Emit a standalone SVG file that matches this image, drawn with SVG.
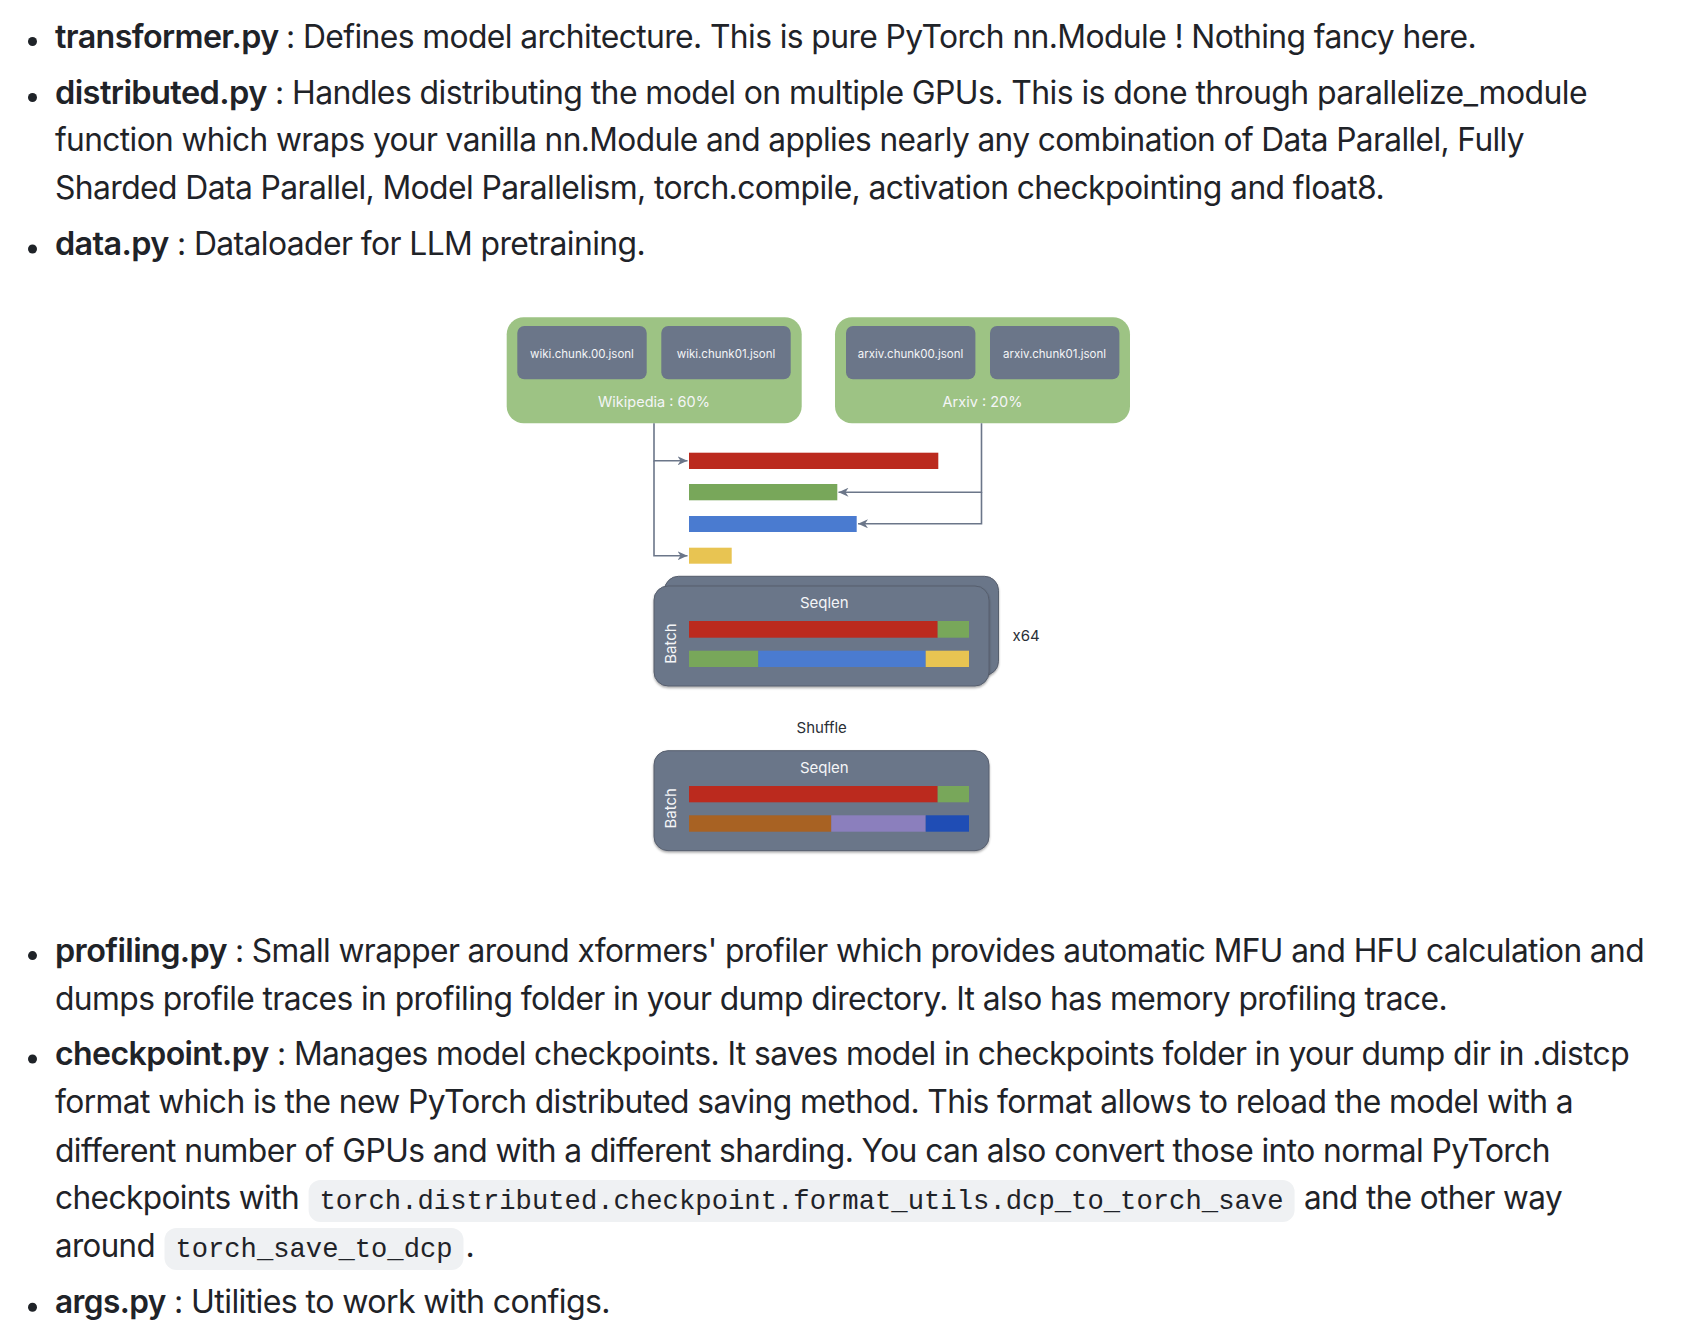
<svg xmlns="http://www.w3.org/2000/svg" width="1686" height="1344" viewBox="0 0 1686 1344">
<defs>
<style>
.t{font-family:Inter,"Liberation Sans",sans-serif;font-size:32px;fill:#1f2328;letter-spacing:-0.6px}
.b{font-weight:600}
.code{font-family:"Liberation Mono","DejaVu Sans Mono",monospace;font-size:27.2px;fill:#1f2328}
.cbg{fill:#eff1f3}
.bul{fill:#1f2328}
.grp{fill:#9dc384}
.chunk{fill:#6b7689}
.lbl{font-family:Inter,"Liberation Sans",sans-serif;fill:#f4f5f7}
.dk{font-family:Inter,"Liberation Sans",sans-serif;fill:#2a2f36;font-size:15px}
.card{fill:#6b7689;stroke:#565e6d;stroke-width:1}
.conn{fill:none;stroke:#6b7689;stroke-width:1.6}
.r{fill:#bb2a1e}.g{fill:#78a75a}.bl{fill:#4a7bd0}.y{fill:#e8c452}.br{fill:#a86223}.pu{fill:#8b7fbd}.db{fill:#1f4db5}
</style>
<marker id="ah" markerUnits="userSpaceOnUse" markerWidth="11" markerHeight="9" refX="10" refY="4.5" orient="auto">
<path d="M0,0 L10,4.5 L0,9 L3,4.5 Z" fill="#6b7689"/>
</marker>
<filter id="sh" x="-5%" y="-5%" width="110%" height="115%">
<feDropShadow dx="0" dy="1.5" stdDeviation="1.2" flood-color="#000" flood-opacity="0.35"/>
</filter>
</defs>
<rect width="1686" height="1344" fill="#ffffff"/>

<g id="text-top">
<circle class="bul" cx="32.5" cy="41.5" r="4.5"/>
<text class="t b" x="55" y="47.5" textLength="223.5" lengthAdjust="spacingAndGlyphs">transformer.py</text>
<text class="t" x="286" y="47.5" textLength="1190" lengthAdjust="spacingAndGlyphs">: Defines model architecture. This is pure PyTorch nn.Module ! Nothing fancy here.</text>

<circle class="bul" cx="32.5" cy="97.5" r="4.5"/>
<text class="t b" x="55" y="103.5" textLength="211.7" lengthAdjust="spacingAndGlyphs">distributed.py</text>
<text class="t" x="275" y="103.5" textLength="1312" lengthAdjust="spacingAndGlyphs">: Handles distributing the model on multiple GPUs. This is done through parallelize_module</text>
<text class="t" x="55" y="151.3" textLength="1469" lengthAdjust="spacingAndGlyphs">function which wraps your vanilla nn.Module and applies nearly any combination of Data Parallel, Fully</text>
<text class="t" x="55" y="199" textLength="1329" lengthAdjust="spacingAndGlyphs">Sharded Data Parallel, Model Parallelism, torch.compile, activation checkpointing and float8.</text>

<circle class="bul" cx="32.5" cy="249" r="4.5"/>
<text class="t b" x="55" y="255" textLength="113.8" lengthAdjust="spacingAndGlyphs">data.py</text>
<text class="t" x="177" y="255" textLength="468" lengthAdjust="spacingAndGlyphs">: Dataloader for LLM pretraining.</text>
</g>

<g id="node-wikipedia">
<rect class="grp" x="506.7" y="317.3" width="295" height="106" rx="17"/>
<rect class="chunk" x="517.3" y="326" width="129.4" height="53.3" rx="7"/>
<rect class="chunk" x="661.3" y="326" width="129.4" height="53.3" rx="7"/>
<text class="lbl" x="582" y="358" font-size="11.5" text-anchor="middle">wiki.chunk.00.jsonl</text>
<text class="lbl" x="726" y="358" font-size="11.5" text-anchor="middle">wiki.chunk01.jsonl</text>
<text class="lbl" x="654" y="406.5" font-size="14.5" text-anchor="middle">Wikipedia : 60%</text>
</g>

<g id="node-arxiv">
<rect class="grp" x="835" y="317.3" width="295" height="106" rx="17"/>
<rect class="chunk" x="846" y="326" width="129.4" height="53.3" rx="7"/>
<rect class="chunk" x="990" y="326" width="129.4" height="53.3" rx="7"/>
<text class="lbl" x="910.5" y="358" font-size="11.5" text-anchor="middle">arxiv.chunk00.jsonl</text>
<text class="lbl" x="1054.5" y="358" font-size="11.5" text-anchor="middle">arxiv.chunk01.jsonl</text>
<text class="lbl" x="982.5" y="406.5" font-size="14.5" text-anchor="middle">Arxiv : 20%</text>
</g>

<g id="node-docs">
<rect class="r" x="689" y="452.7" width="249.3" height="16.3"/>
<rect class="g" x="689" y="484" width="148.3" height="16.3"/>
<rect class="bl" x="689" y="516" width="167.7" height="16"/>
<rect class="y" x="689" y="547.7" width="42.7" height="16"/>
</g>

<g id="connectors">
<path class="conn" d="M654,423.3 V460.8 H687.5" marker-end="url(#ah)"/>
<path class="conn" d="M654,460.8 V555.7 H687.5" marker-end="url(#ah)"/>
<path class="conn" d="M981.5,423.3 V492.2 H838.5" marker-end="url(#ah)"/>
<path class="conn" d="M981.5,492.2 V523.8 H858" marker-end="url(#ah)"/>
</g>

<g id="node-batch">
<rect class="card" x="664.5" y="576.3" width="334" height="99" rx="14" filter="url(#sh)"/>
<rect class="card" x="654" y="586" width="335" height="100" rx="14" filter="url(#sh)"/>
<text class="lbl" x="824.3" y="607.5" font-size="15" text-anchor="middle">Seqlen</text>
<text class="lbl" font-size="15" text-anchor="middle" transform="translate(675.5,643.5) rotate(-90)">Batch</text>
<rect class="r" x="689" y="621" width="248.7" height="16.7"/>
<rect class="g" x="937.7" y="621" width="31.3" height="16.7"/>
<rect class="g" x="689" y="650.7" width="69.3" height="16.3"/>
<rect class="bl" x="758.3" y="650.7" width="167.4" height="16.3"/>
<rect class="y" x="925.7" y="650.7" width="43.3" height="16.3"/>
<text class="dk" x="1012.5" y="640.5">x64</text>
</g>

<g id="node-shuffled">
<text class="dk" x="821.7" y="733.3" text-anchor="middle">Shuffle</text>
<rect class="card" x="654" y="750.7" width="335" height="100" rx="14" filter="url(#sh)"/>
<text class="lbl" x="824.3" y="772.5" font-size="15" text-anchor="middle">Seqlen</text>
<text class="lbl" font-size="15" text-anchor="middle" transform="translate(675.5,808.3) rotate(-90)">Batch</text>
<rect class="r" x="689" y="786" width="248.7" height="16.3"/>
<rect class="g" x="937.7" y="786" width="31.3" height="16.3"/>
<rect class="br" x="689" y="815.3" width="142.3" height="16.4"/>
<rect class="pu" x="831.3" y="815.3" width="94.4" height="16.4"/>
<rect class="db" x="925.7" y="815.3" width="43.3" height="16.4"/>
</g>

<g id="text-bottom">
<circle class="bul" cx="32.5" cy="955.6" r="4.5"/>
<text class="t b" x="55" y="961.6" textLength="172" lengthAdjust="spacingAndGlyphs">profiling.py</text>
<text class="t" x="235" y="961.6" textLength="1409" lengthAdjust="spacingAndGlyphs">: Small wrapper around xformers' profiler which provides automatic MFU and HFU calculation and</text>
<text class="t" x="55" y="1010" textLength="1392" lengthAdjust="spacingAndGlyphs">dumps profile traces in profiling folder in your dump directory. It also has memory profiling trace.</text>

<circle class="bul" cx="32.5" cy="1059" r="4.5"/>
<text class="t b" x="55" y="1065" textLength="213.8" lengthAdjust="spacingAndGlyphs">checkpoint.py</text>
<text class="t" x="277" y="1065" textLength="1352" lengthAdjust="spacingAndGlyphs">: Manages model checkpoints. It saves model in checkpoints folder in your dump dir in .distcp</text>
<text class="t" x="55" y="1113" textLength="1518" lengthAdjust="spacingAndGlyphs">format which is the new PyTorch distributed saving method. This format allows to reload the model with a</text>
<text class="t" x="55" y="1161.5" textLength="1495" lengthAdjust="spacingAndGlyphs">different number of GPUs and with a different sharding. You can also convert those into normal PyTorch</text>
<text class="t" x="55" y="1209" textLength="244" lengthAdjust="spacingAndGlyphs">checkpoints with</text>
<rect class="cbg" x="308.6" y="1180" width="986" height="42" rx="12"/>
<text class="code" x="319.5" y="1209" textLength="964" lengthAdjust="spacingAndGlyphs">torch.distributed.checkpoint.format_utils.dcp_to_torch_save</text>
<text class="t" x="1304" y="1209" textLength="258" lengthAdjust="spacingAndGlyphs">and the other way</text>
<text class="t" x="55" y="1257" textLength="100" lengthAdjust="spacingAndGlyphs">around</text>
<rect class="cbg" x="164.5" y="1228" width="299" height="42" rx="12"/>
<text class="code" x="175.4" y="1257" textLength="277.2" lengthAdjust="spacingAndGlyphs">torch_save_to_dcp</text>
<text class="t" x="465.5" y="1257">.</text>

<circle class="bul" cx="32.5" cy="1307.3" r="4.5"/>
<text class="t b" x="55" y="1313.3" textLength="110.7" lengthAdjust="spacingAndGlyphs">args.py</text>
<text class="t" x="174" y="1313.3" textLength="436" lengthAdjust="spacingAndGlyphs">: Utilities to work with configs.</text>
</g>
</svg>
